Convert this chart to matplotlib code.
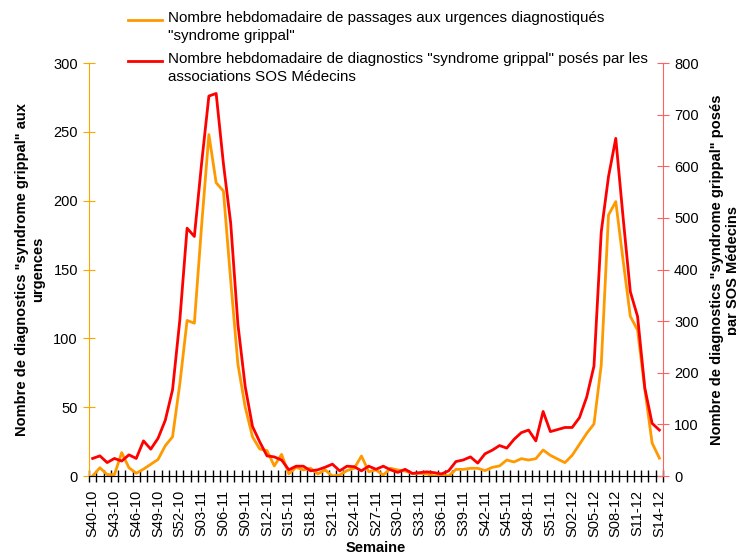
import numpy as np
import matplotlib
matplotlib.use("Agg")
import matplotlib.pyplot as plt
from matplotlib.lines import Line2D

plt.rcParams['font.family'] = ['Liberation Sans', 'DejaVu Sans']

# Weeks S40-10 .. S14-12
weeks = ([f"S{w:02d}-10" for w in range(40, 53)] +
         [f"S{w:02d}-11" for w in range(1, 53)] +
         [f"S{w:02d}-12" for w in range(1, 15)])

urgences = [0, 6, 1, 1, 17, 6, 2, 5, 8.5, 12,
            22, 28.5, 67, 113, 111, 182, 248, 213, 207, 142,
            81, 50, 28.5, 19.6, 18.4, 7.3, 15.7, 1.5, 6.3, 4.4,
            5.6, 1.5, 4.4, 0, 0.7, 3.9, 5.6, 14.5, 3.1, 4.4,
            0.7, 5.6, 4.4, 3.6, 1.9, 1.9, 1.5, 0, 0.7, 0,
            4.8, 4.8, 5.6, 5.6, 3.9, 6.3, 7.3, 11.6, 10.2, 12.6,
            11.6, 12.6, 18.9, 15, 12.3, 9.7, 15, 23, 31, 37.8,
            80.6, 189.6, 199.3, 157, 116, 106, 63, 24, 13]

sos = [34, 39, 26, 34, 29, 41, 34, 68, 52, 73,
       108, 167, 302, 480, 464, 606, 736, 741, 605, 490,
       293, 173, 96, 66, 39, 37, 31, 12, 19, 19,
       10, 12, 17, 23, 10, 19, 18, 10, 19, 13,
       19, 12, 7, 13, 5, 6.5, 8, 6.5, 4, 10,
       28, 31, 37, 25, 43, 50, 59, 54, 71, 84,
       89, 68, 125, 86, 90, 94, 94, 113, 153, 213,
       473, 580, 654, 502, 357, 309, 170, 102, 89]

label_urg = "Nombre hebdomadaire de passages aux urgences diagnostiqués\n\"syndrome grippal\""
label_sos = "Nombre hebdomadaire de diagnostics \"syndrome grippal\" posés par les\nassociations SOS Médecins"

ORANGE = '#FF9900'
RED = '#FF0000'

W, H = 736, 553
fig = plt.figure(figsize=(W / 100, H / 100), dpi=100)
ax = fig.add_axes([89 / W, 1 - 476 / H, (663 - 89) / W, (476 - 63) / H])
ax2 = ax.twinx()

x = np.arange(len(weeks))
ax.plot(x, urgences, color=ORANGE, lw=2)
ax2.plot(x, sos, color=RED, lw=2)

ax.set_xlim(-0.5, len(weeks) - 0.5)
ax.set_ylim(0, 300)
ax2.set_ylim(0, 800)
ax.set_yticks(np.arange(0, 301, 50))
ax2.set_yticks(np.arange(0, 801, 100))

ax.set_xticks(x[::3])
ax.set_xticklabels([weeks[i] for i in x[::3]], rotation=90, fontsize=10.5)
ax.set_xticks(np.arange(-0.5, len(weeks), 1), minor=True)
ax.tick_params(axis='x', which='major', length=0, pad=10)
ax.tick_params(axis='x', which='minor', length=8, direction='inout', color='black', width=1)

ax.tick_params(axis='y', length=8, direction='inout', color='#FFA500', labelsize=10.5, pad=4)
ax2.tick_params(axis='y', length=8, direction='inout', color='#FF6060', labelsize=10.5, pad=4)

for a in (ax, ax2):
    a.spines['top'].set_visible(False)
ax.spines['right'].set_visible(False)
ax2.spines['left'].set_visible(False)
ax2.spines['bottom'].set_visible(False)
ax.spines['left'].set_color('#FFA500')
ax2.spines['right'].set_color('#FF6060')
ax.spines['bottom'].set_color('black')

ax.set_ylabel("Nombre de diagnostics \"syndrome grippal\" aux\nurgences",
              fontsize=10.5, fontweight='bold', labelpad=6)
fig.text(725 / W, 1 - 270 / H,
         "Nombre de diagnostics \"syndrome grippal\" posés\npar SOS Médecins",
         fontsize=10.5, fontweight='bold', rotation=90, ha='center', va='center',
         multialignment='center')
ax.set_xlabel("Semaine", fontsize=10.5, fontweight='bold', labelpad=3)

# Legend (manual, handles aligned with first text line)
for yl, col, lab in [(20, ORANGE, label_urg), (61, RED, label_sos)]:
    fig.add_artist(Line2D([128 / W, 162 / W], [1 - yl / H, 1 - yl / H], color=col, lw=2))
    fig.text(168 / W, 1 - (yl - 9) / H, lab, fontsize=10.9, va='top', ha='left',
             linespacing=1.4)

fig.savefig("out.png", dpi=100)
